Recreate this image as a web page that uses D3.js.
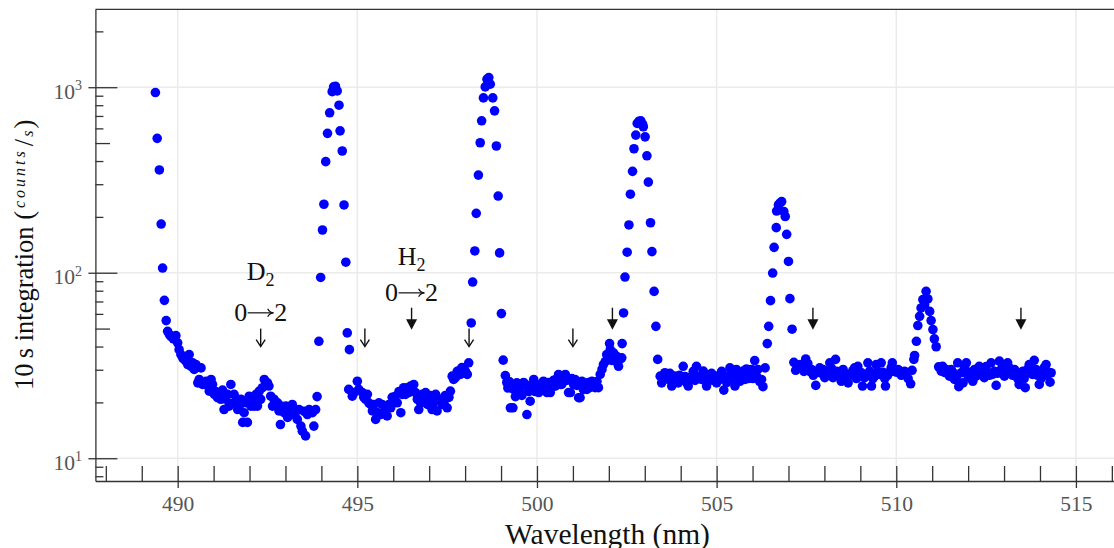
<!DOCTYPE html>
<html>
<head>
<meta charset="utf-8">
<script src="https://cdn.jsdelivr.net/npm/d3@7"></script>
<style>
  html, body { margin: 0; padding: 0; background: #fff; }
  svg { display: block; }
</style>
</head>
<body>
<svg id="chart" width="1114" height="548"></svg>
<script>
// Emission spectrum, 10 s integration: [wavelength (nm), counts/s]
const windowA = [
  [489.38,936],[489.43,530],[489.49,358],[489.54,183],[489.58,106],[489.63,71],[489.68,55.2],
  [489.72,48.3],[489.77,46.4],[489.81,45.4],[489.88,44.0],[489.95,45.8],[490.00,41.9],[490.04,38.5],
  [490.09,36.2],[490.14,34.8],[490.18,34.1],[490.23,33.4],[490.28,32.0],[490.32,36.2],[490.37,31.3],
  [490.42,32.7],[490.46,30.1],[490.51,32.0],[490.56,25.5],[490.60,26.6],[490.65,30.7],[490.69,25.0],
  [490.74,25.0],[490.79,26.0],[490.83,25.5],[490.88,23.0],[490.93,26.6],[490.97,25.0],[491.02,22.1],
  [491.06,22.9],[491.11,21.2],[491.16,22.1],[491.20,20.8],[491.25,23.3],[491.29,18.3],[491.34,20.8],
  [491.39,22.1],[491.43,19.1],[491.48,25.0],[491.53,19.8],[491.57,22.1],[491.62,20.3],[491.67,18.3],
  [491.71,18.7],[491.76,20.8],[491.81,15.6],[491.85,17.6],[491.90,19.9],[491.94,15.6],[491.99,21.6],
  [492.04,19.1],[492.08,20.8],[492.13,19.1],[492.18,22.1],[492.22,19.1],[492.27,23.0],[492.31,20.8],
  [492.36,24.0],[492.41,26.6],[492.45,24.7],[492.50,25.5],[492.54,24.5],[492.59,21.6],[492.64,19.1],
  [492.68,20.8],[492.73,19.5],[492.78,19.9],[492.82,18.0],[492.86,15.2],[492.88,19.1],[492.92,18.3],
  [492.96,17.6],[493.01,19.1],[493.06,16.6],[493.10,18.3],[493.15,17.2],[493.19,19.5],[493.24,17.2],
  [493.29,17.9],[493.33,16.2],[493.38,18.3],[493.43,14.9],[493.47,14.0],[493.52,17.9],[493.56,13.2],
  [493.61,17.2],[493.66,18.3],[493.70,17.9],[493.75,17.6],[493.79,14.9],[493.84,18.3],[493.88,21.5]
];
const peak494 = [
  [493.93,42.7],[493.98,94.3],[494.03,170],[494.07,234],[494.12,397],[494.17,564],[494.23,728],
  [494.30,946],[494.34,1004],[494.39,1012],[494.44,955],[494.49,800],[494.52,582],[494.58,453],
  [494.63,232],[494.68,114],[494.72,47.4],[494.78,38.5]
];
const windowB = [
  [494.76,23.5],[494.86,21.6],[494.91,22.6],[495.00,26.0],[495.04,23.5],[495.14,22.6],[495.18,21.3],
  [495.23,20.8],[495.28,22.1],[495.32,19.9],[495.37,19.5],[495.42,18.0],[495.46,19.5],[495.51,16.2],
  [495.55,17.7],[495.60,19.9],[495.65,17.2],[495.69,19.5],[495.74,17.6],[495.79,18.3],[495.83,16.9],
  [495.88,19.5],[495.93,18.7],[495.97,21.3],[496.02,20.8],[496.06,21.6],[496.11,19.9],[496.16,22.9],
  [496.21,17.6],[496.25,22.1],[496.29,24.0],[496.34,22.1],[496.39,24.0],[496.43,22.6],[496.48,24.5],
  [496.53,23.5],[496.57,25.0],[496.62,22.6],[496.67,20.8],[496.71,18.3],[496.76,19.9],[496.81,22.1],
  [496.85,20.8],[496.90,22.6],[496.95,19.5],[496.99,20.8],[497.04,21.8],[497.08,18.3],[497.13,20.0],
  [497.18,22.1],[497.22,18.0],[497.27,20.8],[497.31,20.8],[497.36,19.5],[497.41,19.9],[497.45,21.8],
  [497.50,18.7],[497.55,21.3],[497.59,23.0],[497.64,27.7],[497.68,26.6],[497.73,27.2],[497.78,29.4],
  [497.82,29.5],[497.87,28.3],[497.91,30.8],[497.96,30.7],[498.01,29.4],[498.06,28.3],[498.10,32.7]
];
const peak498 = [
  [498.17,53.6],[498.21,89.1],[498.27,131],[498.31,209],[498.37,336],[498.42,502],[498.46,659],
  [498.51,876],[498.56,1004],[498.61,1104],[498.66,1127],[498.70,1038],[498.77,876],[498.82,746],
  [498.87,482],[498.92,259],[498.96,128],[499.01,60.2],[499.06,33.8]
];
const windowC = [
  [499.12,27.9],[499.16,25.6],[499.19,23.9],[499.23,25.9],[499.26,18.7],[499.33,18.7],[499.35,23.5],
  [499.40,21.5],[499.44,25.5],[499.49,23.5],[499.54,24.0],[499.58,21.8],[499.63,25.6],[499.68,25.0],
  [499.72,17.2],[499.77,22.9],[499.81,20.3],[499.86,25.0],[499.91,26.6],[499.95,22.9],[500.00,24.7],
  [500.05,22.6],[500.09,25.0],[500.14,23.5],[500.18,26.0],[500.24,24.7],[500.28,22.6],[500.32,25.6],
  [500.37,22.6],[500.42,24.1],[500.46,26.3],[500.51,24.5],[500.56,26.9],[500.60,28.3],[500.65,25.0],
  [500.69,25.0],[500.74,26.9],[500.79,28.3],[500.83,26.3],[500.88,22.6],[500.93,22.6],[500.97,26.9],
  [501.02,25.0],[501.06,26.6],[501.11,24.7],[501.16,21.2],[501.20,21.2],[501.25,26.0],[501.29,23.5],
  [501.34,25.0],[501.39,23.5],[501.43,25.6],[501.48,24.1],[501.53,26.0],[501.57,25.0],[501.62,24.0],
  [501.67,25.9],[501.71,24.0],[501.76,28.3],[501.81,30.1],[501.85,32.0],[501.90,33.2],[501.94,36.2],
  [501.99,34.8],[502.02,41.5],[502.04,38.5],[502.08,33.7],[502.13,37.0],[502.18,33.4],[502.22,35.4],
  [502.27,31.3],[502.31,34.1],[502.36,34.8],[502.37,41.5]
];
const peak503 = [
  [502.41,60.7],[502.45,94.8],[502.51,129],[502.56,181],[502.60,265],[502.66,352],[502.70,466],
  [502.75,552],[502.79,638],[502.84,656],[502.89,659],[502.94,632],[502.96,612],[503.01,540],
  [503.06,427],[503.10,308],[503.16,186],[503.20,130],[503.26,79.3],[503.31,51.4],[503.36,34.1]
];
const windowD = [
  [503.43,27.7],[503.47,25.5],[503.51,26.9],[503.56,28.9],[503.61,26.9],[503.66,26.6],[503.70,28.7],
  [503.75,24.5],[503.79,26.9],[503.84,27.7],[503.88,26.3],[503.93,25.5],[503.97,28.0],[504.02,26.6],
  [504.07,31.3],[504.08,26.6],[504.12,27.6],[504.16,25.6],[504.21,24.5],[504.26,26.6],[504.31,27.7],
  [504.35,29.4],[504.40,26.3],[504.44,31.3],[504.49,26.9],[504.54,27.7],[504.58,26.6],[504.63,29.5],
  [504.67,26.9],[504.72,24.5],[504.76,26.3],[504.81,27.2],[504.86,28.7],[504.90,26.3],[504.95,27.7],
  [505.00,25.5],[505.04,27.6],[505.09,26.6],[505.14,29.4],[505.20,23.3],[505.24,26.9],[505.28,25.6],
  [505.32,27.7],[505.37,30.7],[505.42,26.9],[505.46,29.4],[505.51,24.5],[505.55,30.1],[505.60,27.6],
  [505.65,26.0],[505.69,28.3],[505.74,29.5],[505.79,26.6],[505.83,30.3],[505.88,26.9],[505.92,28.3],
  [505.97,30.1],[506.01,26.9],[506.06,33.6],[506.11,27.7],[506.15,30.1],[506.20,25.9],[506.25,26.6],
  [506.29,24.3],[506.35,30.7]
];
const peak507 = [
  [506.41,41.5],[506.45,51.4],[506.50,70.7],[506.56,99.6],[506.60,137],[506.66,175],[506.67,215],
  [506.72,232],[506.76,237],[506.81,242],[506.87,214],[506.91,201],[506.95,161],[507.00,115],
  [507.04,72.5],[507.10,49.6]
];
const windowE = [
  [507.15,32.9],[507.20,29.8],[507.24,31.5],[507.33,32.0],[507.38,30.4],[507.43,29.4],[507.48,34.3],
  [507.54,32.4],[507.59,29.4],[507.64,30.1],[507.69,28.0],[507.76,24.7],[507.81,29.0],[507.87,30.7],
  [507.92,28.7],[507.96,30.1],[508.01,27.2],[508.06,28.0],[508.10,29.4],[508.15,32.7],[508.19,30.7],
  [508.24,27.2],[508.31,34.1],[508.34,29.4],[508.38,28.3],[508.43,27.6],[508.47,26.0],[508.52,30.1],
  [508.56,28.7],[508.61,27.2],[508.66,25.5],[508.70,28.0],[508.75,28.3],[508.79,29.7],[508.84,30.7],
  [508.89,26.9],[508.93,31.3],[508.98,27.7],[509.02,29.0],[509.06,24.5],[509.12,27.2],[509.17,28.3],
  [509.21,32.7],[509.26,29.5],[509.31,24.5],[509.35,26.9],[509.40,27.7],[509.44,32.0],[509.49,29.4],
  [509.54,28.3],[509.58,32.7],[509.63,29.1],[509.68,26.9],[509.70,24.5],[509.76,28.0],[509.81,29.1],
  [509.86,30.8],[509.89,32.7],[509.94,29.4],[510.00,29.1],[510.05,30.1],[510.09,29.5],[510.14,28.0],
  [510.18,28.3],[510.23,29.4],[510.28,29.1],[510.33,26.9],[510.40,25.2],[510.44,29.8]
];
const peak511 = [
  [510.49,34.1],[510.51,35.8],[510.56,42.7],[510.60,51.9],[510.65,58.2],[510.69,64.6],[510.74,71.6],
  [510.79,67.3],[510.83,79.4],[510.88,72.2],[510.93,61.9],[510.97,55.2],[511.02,49.4],[511.06,44.0],
  [511.11,39.9]
];
const windowF = [
  [511.18,31.1],[511.25,29.5],[511.29,31.3],[511.34,29.0],[511.39,30.1],[511.43,28.7],[511.48,27.7],
  [511.53,30.1],[511.57,29.1],[511.62,26.6],[511.67,27.2],[511.71,32.7],[511.74,24.3],[511.81,28.9],
  [511.86,25.5],[511.90,30.7],[511.95,32.7],[511.99,28.0],[512.04,29.1],[512.08,26.9],[512.13,26.0],
  [512.18,30.1],[512.22,27.7],[512.27,29.4],[512.31,31.3],[512.36,29.1],[512.41,30.1],[512.45,27.2],
  [512.50,31.2],[512.54,29.1],[512.59,28.0],[512.64,32.7],[512.68,28.3],[512.73,29.4],[512.78,24.7],
  [512.82,28.7],[512.87,33.4],[512.92,30.1],[512.96,31.5],[513.01,27.7],[513.06,29.4],[513.10,32.7],
  [513.15,30.7],[513.19,28.7],[513.24,28.0],[513.29,30.1],[513.33,29.1],[513.38,26.9],[513.42,25.0],
  [513.47,28.3],[513.52,29.4],[513.56,26.9],[513.59,24.0],[513.65,30.1],[513.70,32.0],[513.75,28.7],
  [513.79,28.3],[513.84,33.7],[513.89,30.1],[513.93,28.0],[513.98,25.0],[514.03,26.9],[514.07,28.3],
  [514.12,30.8],[514.17,32.0],[514.20,28.0],[514.24,29.1],[514.28,25.7],[514.31,28.9]
];

// Axis ticks
const xMinorTicks = d3.range(488, 517);
const xMajorTicks = [490, 495, 500, 505, 510, 515];
const yMajorTicks = [10, 100, 1000];
const yMinorTicks = [8, 9, 20, 30, 40, 50, 60, 70, 80, 90, 200, 300, 400, 500, 600, 700, 800, 900, 2000];

// Transition markers (wavelength, nm)
const openMarkers = [492.31, 495.21, 498.11, 501.00];
const filledMarkers = [496.51, 502.10, 507.68, 513.47];
const openMarkerTop = 50;     // counts/s at arrow tail
const filledMarkerTop = 64.8;
const bandLabels = [
  { species: "D", sub: "2", from: "0", to: "2", wavelength: 492.31, nameAt: 91.7, transAt: 54.7 },
  { species: "H", sub: "2", from: "0", to: "2", wavelength: 496.51, nameAt: 110, transAt: 70.1 }
];

const serif = '"Liberation Serif", "Times New Roman", serif';
const svg = d3.select("#chart");
const plot = { left: 95.4, right: 1114, top: 9.4, bottom: 481 };

const x = d3.scaleLinear().domain([487.71, 516.06]).range([plot.left, plot.right]);
const y = d3.scaleLog().domain([7.54, 2627]).range([plot.bottom, plot.top]);

// grid
const grid = svg.append("g").attr("stroke", "#ebebeb").attr("stroke-width", 1.5);
grid.selectAll(".gx").data(xMajorTicks).join("line")
  .attr("x1", d => x(d)).attr("x2", d => x(d))
  .attr("y1", plot.top).attr("y2", plot.bottom);
grid.selectAll(".gy").data(yMajorTicks).join("line")
  .attr("x1", plot.left).attr("x2", plot.right)
  .attr("y1", d => y(d)).attr("y2", d => y(d));

// data points
const spectrum = [].concat(windowA, peak494, windowB, peak498, windowC, peak503,
                           windowD, peak507, windowE, peak511, windowF);
svg.append("g").selectAll("circle").data(spectrum).join("circle")
  .attr("cx", d => x(d[0])).attr("cy", d => y(d[1]))
  .attr("r", 4.8).attr("fill", "#0000ff");

// x axis
const xAxis = d3.axisBottom(x).tickValues(xMinorTicks)
  .tickSizeInner(0).tickSizeOuter(0)
  .tickFormat(d => xMajorTicks.includes(d) ? String(d) : "");
const gx = svg.append("g").attr("transform", `translate(0,${plot.bottom})`).call(xAxis);
gx.select(".domain").attr("stroke", "#333").attr("stroke-width", 1.3);
gx.selectAll(".tick line")
  .attr("y1", -15).attr("y2", d => xMajorTicks.includes(d) ? 7 : 0)
  .attr("stroke", "#333").attr("stroke-width", 1.3);
gx.selectAll(".tick text")
  .attr("font-family", serif).attr("font-size", 21.5).attr("fill", "#555")
  .attr("dy", null).attr("y", 29.7);

// y axis
const yAxis = d3.axisLeft(y).tickValues(yMajorTicks.concat(yMinorTicks))
  .tickSizeInner(0).tickSizeOuter(0).tickFormat("");
const gy = svg.append("g").attr("transform", `translate(${plot.left},0)`).call(yAxis);
gy.select(".domain").attr("stroke", "#333").attr("stroke-width", 1.3);
gy.selectAll(".tick line")
  .attr("x1", d => yMajorTicks.includes(d) ? -7 : 0)
  .attr("x2", d => yMajorTicks.includes(d) ? 22 : (String(d)[0] === "5" ? 14.6 : 8))
  .attr("stroke", "#333").attr("stroke-width", 1.3);
const yLab = gy.selectAll(".ylab").data(yMajorTicks).join("text")
  .attr("x", -13.5).attr("y", d => y(d) + 11.4)
  .attr("text-anchor", "end").attr("font-family", serif).attr("fill", "#555");
yLab.append("tspan").attr("font-size", 21.5).text("10");
yLab.append("tspan").attr("font-size", 14).attr("dy", -8.4).text(d => String(Math.round(Math.log10(d))));

// top frame
svg.append("line").attr("x1", plot.left).attr("x2", plot.right)
  .attr("y1", plot.top).attr("y2", plot.top)
  .attr("stroke", "#333").attr("stroke-width", 1.3);

// axis titles
svg.append("text").attr("x", 607.5).attr("y", 544)
  .attr("text-anchor", "middle").attr("font-family", serif).attr("font-size", 29.5)
  .attr("fill", "#111").text("Wavelength (nm)");

const yt = svg.append("text")
  .attr("transform", "translate(32.5,390) rotate(-90)")
  .attr("font-family", serif).attr("font-size", 26.5).attr("fill", "#111");
yt.append("tspan").text("10\u2009s integration ");
yt.append("tspan").text("(");
yt.append("tspan").attr("font-size", 16).attr("font-style", "italic")
  .attr("letter-spacing", 3).attr("dx", 3).attr("dy", -8).text("counts");
yt.append("tspan").attr("dx", 2).attr("dy", 8).text("/");
yt.append("tspan").attr("font-size", 16).attr("font-style", "italic").attr("dx", 2).text("s");
yt.append("tspan").attr("dx", 2).text(")");

// transition markers
const marks = svg.append("g").attr("stroke", "#111").attr("stroke-width", 1.4).attr("fill", "none");
openMarkers.forEach(w => {
  const cx = x(w), t = y(openMarkerTop);
  marks.append("line").attr("x1", cx).attr("x2", cx).attr("y1", t).attr("y2", t + 18);
  marks.append("path").attr("d", `M${cx - 4.5},${t + 11}L${cx},${t + 18}L${cx + 4.5},${t + 11}`);
});
filledMarkers.forEach(w => {
  const cx = x(w), t = y(filledMarkerTop);
  marks.append("line").attr("x1", cx).attr("x2", cx).attr("y1", t).attr("y2", t + 13);
  marks.append("path").attr("d", `M${cx - 5.5},${t + 11.5}L${cx + 5.5},${t + 11.5}L${cx},${t + 22}Z`)
    .attr("fill", "#111").attr("stroke", "none");
});

// band labels
bandLabels.forEach(b => {
  const cx = x(b.wavelength);
  const name = svg.append("text").attr("x", cx).attr("y", y(b.nameAt))
    .attr("text-anchor", "middle").attr("font-family", serif).attr("font-size", 26).attr("fill", "#111");
  name.append("tspan").text(b.species);
  name.append("tspan").attr("font-size", 18).attr("dy", 6).text(b.sub);

  const by = y(b.transAt);
  svg.append("text").attr("x", cx - 13.5).attr("y", by).attr("text-anchor", "end")
    .attr("font-family", serif).attr("font-size", 26).attr("fill", "#111").text(b.from);
  svg.append("text").attr("x", cx + 13.5).attr("y", by).attr("text-anchor", "start")
    .attr("font-family", serif).attr("font-size", 26).attr("fill", "#111").text(b.to);
  const ay = by - 8.5;
  svg.append("line").attr("x1", cx - 13).attr("x2", cx + 12.5).attr("y1", ay).attr("y2", ay)
    .attr("stroke", "#111").attr("stroke-width", 1.2);
  svg.append("path").attr("d", `M${cx + 7},${ay - 4}Q${cx + 9},${ay} ${cx + 13},${ay}Q${cx + 9},${ay} ${cx + 7},${ay + 4}`)
    .attr("stroke", "#111").attr("stroke-width", 1.2).attr("fill", "none");
});
</script>
</body>
</html>
